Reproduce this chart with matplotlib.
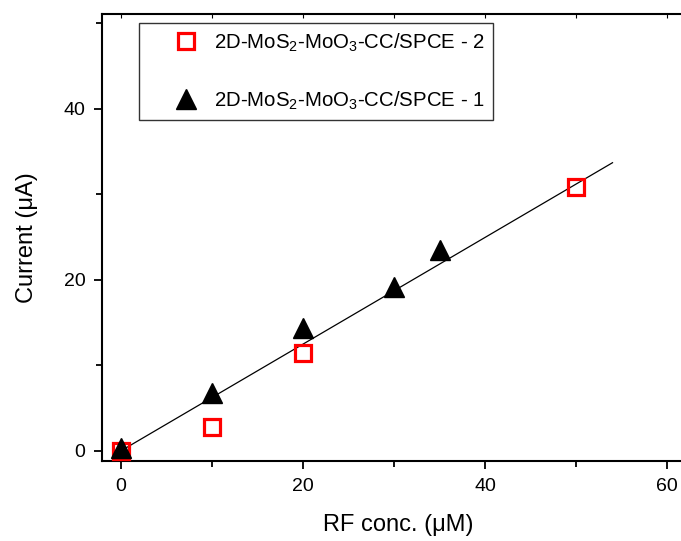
import matplotlib
matplotlib.use("Agg")
import matplotlib.pyplot as plt
from matplotlib.ticker import MultipleLocator

plt.rcParams['font.family'] = ['Liberation Sans', 'DejaVu Sans']
plt.rcParams['mathtext.fontset'] = 'custom'
plt.rcParams['mathtext.rm'] = 'Liberation Sans'
plt.rcParams['mathtext.it'] = 'Liberation Sans'

# Data
x_sq = [0, 10, 20, 50]
y_sq = [0.0, 2.8, 11.4, 30.9]
x_tri = [0, 10, 20, 30, 35]
y_tri = [0.3, 6.7, 14.4, 19.1, 23.5]
fit_x = [0, 54]
fit_y = [0.0, 33.7]
label_sq = "2D-MoS$_\\mathrm{2}$-MoO$_\\mathrm{3}$-CC/SPCE - 2"
label_tri = "2D-MoS$_\\mathrm{2}$-MoO$_\\mathrm{3}$-CC/SPCE - 1"

W, H = 681, 541
fig = plt.figure(figsize=(W / 100, H / 100), dpi=100)

xmin, xmax = -2.1, 63.0
ymin, ymax = -1.2, 51.1
px_per_x = 9.1
left_px, bottom_px, top_px = 102, 461, 14
width_px = (xmax - xmin) * px_per_x
ax = fig.add_axes([left_px / W, (H - bottom_px) / H, width_px / W, (bottom_px - top_px) / H])

ax.plot(fit_x, fit_y, color='black', lw=0.9, zorder=2)
ax.plot(x_sq, y_sq, ls='none', marker='s', ms=11.5, mfc='none', mec='#ff0000', mew=2.3,
        label=label_sq, zorder=3)
ax.plot(x_tri, y_tri, ls='none', marker='^', ms=14.5, color='black', label=label_tri, zorder=4)

ax.set_xlim(xmin, xmax)
ax.set_ylim(ymin, ymax)
ax.xaxis.set_major_locator(MultipleLocator(20))
ax.xaxis.set_minor_locator(MultipleLocator(10))
ax.yaxis.set_major_locator(MultipleLocator(20))
ax.yaxis.set_minor_locator(MultipleLocator(10))
ax.tick_params(which='major', direction='out', length=6, width=1.3, labelsize=14, pad=6)
ax.tick_params(which='minor', direction='out', length=4, width=1.3)
ax.tick_params(axis='x', which='both', top=False)

for s in ['left', 'bottom', 'top']:
    ax.spines[s].set_linewidth(1.5)
ax.spines['right'].set_visible(False)

# top ticks inward and small
ax2 = ax.secondary_xaxis('top')
ax2.xaxis.set_major_locator(MultipleLocator(10))
ax2.tick_params(direction='in', length=3, width=0.8, labeltop=False)
ax2.spines['top'].set_visible(False)

ax.set_xlabel('RF conc. (\u03bcM)', fontsize=17, labelpad=14)
ax.set_ylabel('Current (\u03bcA)', fontsize=17, labelpad=18)

fs = 14.7
leg = ax.legend(loc='upper left',
                bbox_to_anchor=((139 - left_px) / width_px, 1 - (23 - top_px) / (bottom_px - top_px)),
                frameon=True, fancybox=False, edgecolor='black', fontsize=fs,
                labelspacing=1.75, borderpad=0.42, handletextpad=-0.51, borderaxespad=0,
                handlelength=3.76)
leg.get_frame().set_linewidth(1.0)

fig.savefig('out.png', dpi=100)
